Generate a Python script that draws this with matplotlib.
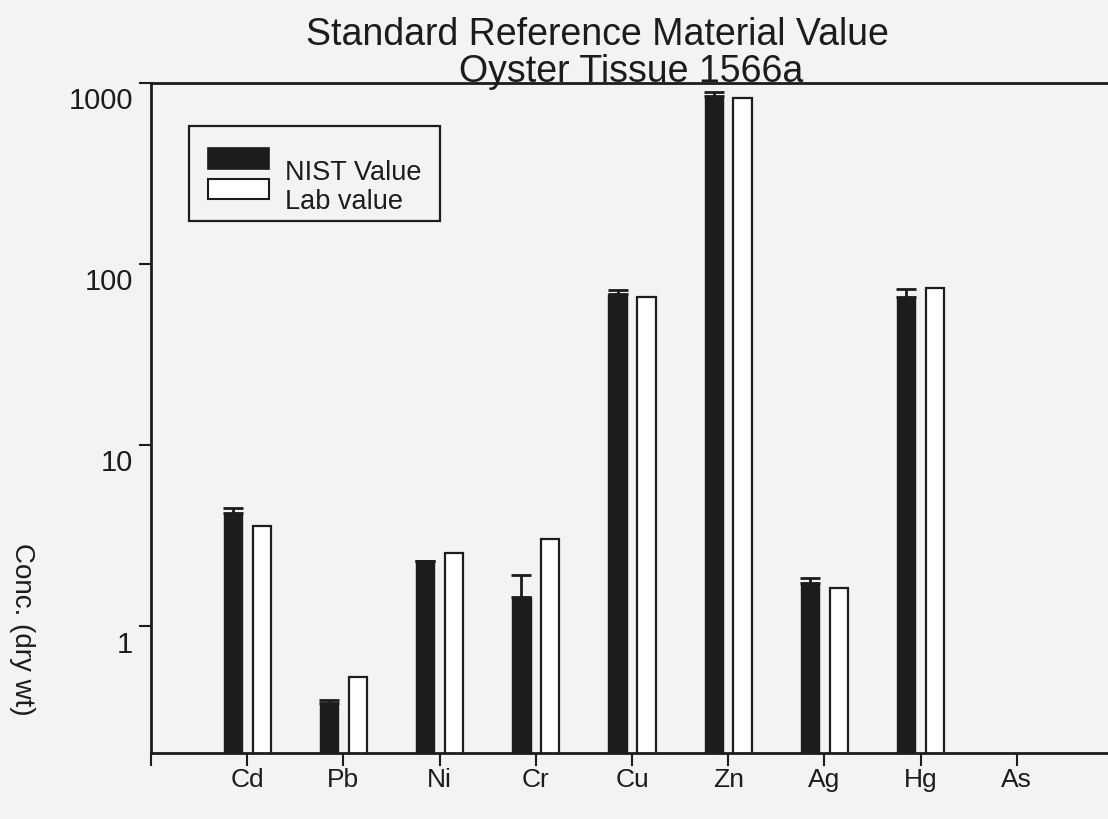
import numpy as np
import matplotlib
matplotlib.use("Agg")
import matplotlib.pyplot as plt
from matplotlib.patches import Rectangle
from matplotlib.ticker import FixedLocator, NullLocator
from matplotlib.transforms import ScaledTranslation

plt.rcParams['font.family'] = ['Liberation Sans', 'DejaVu Sans']

elements = ["Cd", "Pb", "Ni", "Cr", "Cu", "Zn", "Ag", "Hg", "As"]
nist_value = [4.2, 0.376, 2.31, 1.46, 68.3, 847, 1.73, 65.7, np.nan]
nist_err   = [0.33, 0.015, 0.0, 0.45, 3.5, 45, 0.13, 7.0, np.nan]
lab_value  = [3.57, 0.523, 2.53, 3.05, 65.7, 826, 1.62, 73.7, np.nan]
y_ticks = [1, 10, 100, 1000]
series_names = ["NIST Value", "Lab value"]

bg = "#f3f3f3"
ink = "#1c1c1c"

fig = plt.figure(figsize=(11.08, 8.19), dpi=100, facecolor=bg)
ax = fig.add_axes([0.1363, 0.0806, 0.8637, 0.8181], facecolor=bg)

x = np.arange(1, len(elements) + 1)
w = 0.19
# only the upper half of the error bar shows above the black bar
upper_only = [np.zeros(len(nist_err)), nist_err]
ax.bar(x - 0.15, nist_value, width=w, color=ink, edgecolor=ink, linewidth=1.0,
       yerr=upper_only, error_kw=dict(ecolor=ink, elinewidth=2, capsize=7.5, capthick=2),
       zorder=2)
ax.bar(x + 0.15, lab_value, width=w, color="white", edgecolor=ink, linewidth=1.6, zorder=2)

ax.set_yscale("log")
ax.set_ylim(0.2, 1000)
ax.set_xlim(0, (1108 - 151) / 96.2)
ax.yaxis.set_major_locator(FixedLocator(y_ticks))
ax.yaxis.set_minor_locator(NullLocator())
ax.set_yticklabels([str(v) for v in y_ticks], fontsize=21)
ax.set_xticks(np.arange(0, len(elements) + 1))
ax.set_xticklabels([""] + elements, fontsize=19)
ax.tick_params(axis="both", direction="out", length=9, width=1.5, colors=ink)
ax.tick_params(axis="x", pad=2)
ax.tick_params(axis="y", pad=4)
shift = ScaledTranslation(0, -3 / 72, fig.dpi_scale_trans)
for lab in ax.get_yticklabels():
    lab.set_verticalalignment("top")
    lab.set_transform(lab.get_transform() + shift)

ax.spines["right"].set_visible(False)
for s in ["left", "bottom", "top"]:
    ax.spines[s].set_linewidth(2)
    ax.spines[s].set_color(ink)

# legend box drawn by hand to keep the offset text of the original
ft = fig.transFigure
fig.patches.append(Rectangle((0.1706, 0.7302), 0.2265, 0.116, transform=ft,
                             facecolor=bg, edgecolor=ink, linewidth=1.6, zorder=5))
fig.patches.append(Rectangle((0.1877, 0.7937), 0.0551, 0.0256, transform=ft,
                             facecolor=ink, edgecolor=ink, linewidth=1.2, zorder=6))
fig.patches.append(Rectangle((0.1877, 0.7570), 0.0551, 0.0244, transform=ft,
                             facecolor="white", edgecolor=ink, linewidth=1.5, zorder=6))
fig.text(0.2572, 0.7888, series_names[0], ha="left", va="center", fontsize=19.5,
         color=ink, zorder=7)
fig.text(0.2572, 0.7534, series_names[1], ha="left", va="center", fontsize=19.5,
         color=ink, zorder=7)

fig.text(0.539, 0.957, "Standard Reference Material Value", ha="center", va="center",
         fontsize=27, color=ink)
fig.text(0.570, 0.912, "Oyster Tissue 1566a", ha="center", va="center",
         fontsize=27, color=ink)
fig.text(0.02, 0.231, "Conc. (dry wt)", rotation=270, ha="center", va="center",
         fontsize=20, color=ink)

fig.savefig("out.png", dpi=100, facecolor=bg)
